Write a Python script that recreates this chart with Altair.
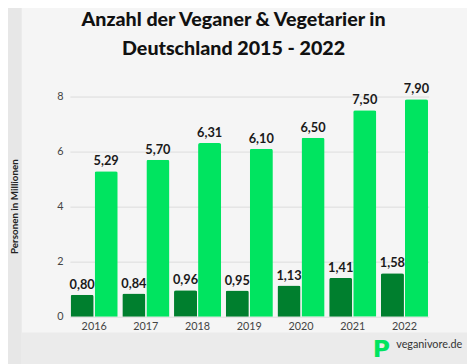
import altair as alt
import pandas as pd

years = ["2016", "2017", "2018", "2019", "2020", "2021", "2022"]
veganer = [0.80, 0.84, 0.96, 0.95, 1.13, 1.41, 1.58]
vegetarier = [5.29, 5.70, 6.31, 6.10, 6.50, 7.50, 7.90]
groups = ["Veganer", "Vegetarier"]
colors = ["#007f2e", "#00e460"]
y_ticks = [0, 2, 4, 6, 8]
title_lines = ["Anzahl der Veganer & Vegetarier in", "Deutschland 2015 - 2022"]
y_title = "Personen in Millionen"

rows = []
for i, yr in enumerate(years):
    rows.append({"Jahr": yr, "Gruppe": groups[0], "Wert": veganer[i]})
    rows.append({"Jahr": yr, "Gruppe": groups[1], "Wert": vegetarier[i]})
df = pd.DataFrame(rows)

FONT = "Lato"
W, H = 365, 224

x_enc = alt.X("Jahr:N", sort=years,
              scale=alt.Scale(paddingInner=0.089, paddingOuter=0.013),
              axis=alt.Axis(title="Jahr", labelAngle=0, ticks=False, domain=False,
                            labelPadding=4, labelFont=FONT, labelFontSize=11,
                            labelColor="#444444", titleFont=FONT, titleFontSize=10,
                            titleFontWeight="bold", titleColor="#222222", titlePadding=4))
xoff = alt.XOffset("Gruppe:N", sort=groups, scale=alt.Scale(paddingInner=0.04))
y_enc = alt.Y("Wert:Q", scale=alt.Scale(domain=[0, 8], nice=False),
              axis=alt.Axis(values=y_ticks, title=None, ticks=False,
                            domain=False, labelPadding=7, labelFont=FONT, labelFontSize=11,
                            labelColor="#444444", gridColor="#dcdcdc", gridWidth=1))

base = alt.Chart(df)

bars = base.mark_bar(cornerRadiusTopLeft=2, cornerRadiusTopRight=2).encode(
    x=x_enc, xOffset=xoff, y=y_enc,
    color=alt.Color("Gruppe:N", sort=groups,
                    scale=alt.Scale(domain=groups, range=colors), legend=None),
)

labels = base.transform_calculate(
    label="replace(format(datum.Wert, '.2f'), '.', ',')"
).mark_text(baseline="bottom", dy=-3, font=FONT, fontSize=13, fontWeight="bold",
            color="#1a1a1a").encode(
    x=alt.X("Jahr:N", sort=years), xOffset=xoff, y="Wert:Q", text="label:N"
)

one = pd.DataFrame({"a": [0]})
left_strip = alt.Chart(one).mark_rect(color="#e7e7e7", clip=False).encode(
    x=alt.value(-71), x2=alt.value(-49), y=alt.value(-95), y2=alt.value(280))
bottom_strip = alt.Chart(one).mark_rect(color="#ebebeb", clip=False).encode(
    x=alt.value(-49), x2=alt.value(410), y=alt.value(240), y2=alt.value(280))
logo_icon = alt.Chart(one).mark_text(text="P", font="DejaVu Sans", fontWeight="bold",
                                     fontSize=24, color="#00e460", align="center",
                                     baseline="middle").encode(
    x=alt.value(317), y=alt.value(258))
logo_text = alt.Chart(one).mark_text(text="veganivore.de", font=FONT, fontSize=11,
                                     color="#333333", align="left",
                                     baseline="middle").encode(
    x=alt.value(332), y=alt.value(253))
title1 = alt.Chart(one).mark_text(text=title_lines[0], font=FONT, fontSize=20,
                                  fontWeight=900, color="#111111", align="center",
                                  baseline="middle").encode(
    x=alt.value(166.5), y=alt.value(-78))
title2 = alt.Chart(one).mark_text(text=title_lines[1], font=FONT, fontSize=20,
                                  fontWeight=900, color="#111111", align="center",
                                  baseline="middle").encode(
    x=alt.value(166.5), y=alt.value(-48))
ytitle = alt.Chart(one).mark_text(text=y_title, font=FONT, fontSize=10,
                                  fontWeight="bold", color="#222222", align="center",
                                  baseline="middle", angle=270).encode(
    x=alt.value(-56), y=alt.value(112))

chart = alt.layer(left_strip, bottom_strip, bars, labels, logo_icon, logo_text,
                  title1, title2, ytitle).properties(
    width=W, height=H,
    autosize=alt.AutoSizeParams(type="none"),
    padding={"left": 63, "top": 87, "right": 39, "bottom": 45},
    background="#f5f5f5",
).configure_view(stroke=None)

chart.save("out.html", embed_options={"renderer": "svg", "actions": False})
